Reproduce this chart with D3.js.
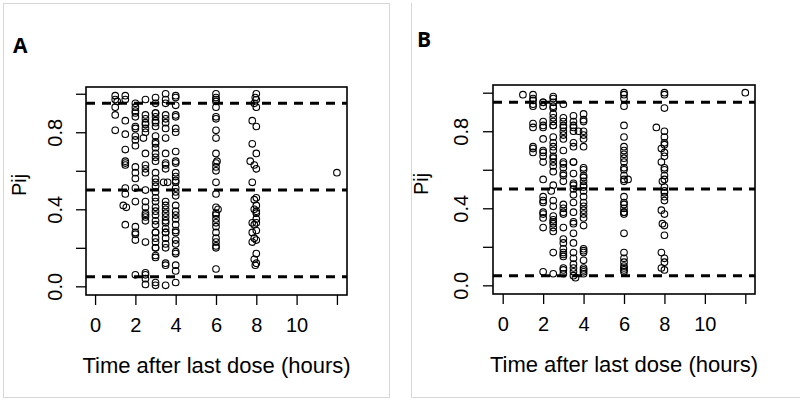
<!DOCTYPE html>
<html><head><meta charset="utf-8">
<script src="https://cdn.jsdelivr.net/npm/d3@7"></script>
<style>body{margin:0;background:#fff}svg{display:block}</style></head>
<body>
<svg id="c" width="800" height="401"></svg>
<script>
// ---- data ----
const xTicks = [0, 2, 4, 6, 8, 10, 12];
const xTickLabels = ["0", "2", "4", "6", "8", "10", ""];
const yTicks = [0, 0.2, 0.4, 0.6, 0.8, 1.0];
const yTickLabels = ["0.0", "", "0.4", "", "0.8", ""];
const refLines = [0.05, 0.5, 0.95];
const panelLabels = ["A", "B"];
const xTitle = "Time after last dose (hours)";
const yTitle = "Pij";

const timeA = [
 1,1,1.1,1,1,1,
 1.5,1.5,1.5,1.5,1.5,1.5,1.5,1.5,1.5,1.5,1.4,1.55,1.5,
 2,2,2,2,2,2,2,2,2,2,2,2,2,2,2,2,2,2,2,2,
 2.5,2.5,2.5,2.5,2.5,2.5,2.5,2.4,2.5,2.5,2.5,2.5,2.5,2.5,2.5,2.5,2.5,2.5,2.5,2.5,2.5,2.5,2.5,2.5,
 3,3,3,3,3,3,3,3,3,3,3,3,3,3,3,3,3,3,3,3,3,3,3,3,3,3,3,3,3,3,3,3,3,3,3,3,3,
 3.5,3.5,3.5,3.5,3.5,3.5,3.5,3.5,3.5,3.5,3.5,3.5,3.4,3.6,3.5,3.5,3.5,3.5,3.5,3.5,3.5,3.5,3.5,3.5,3.5,3.5,3.5,3.5,3.5,3.5,
 4,4,4,4,4,4,4,4,4,4,4,4,4,4,4,4,4,4,4,4,4,4,4,4,4,4,4,4,4,4,4,
 6,6,6,6,6,6,6,6,6,6,6,6.05,6,6,6,6,6,6.1,6,6,6,6,6,6,6,6,6,6,6,
 8,7.95,8,7.9,8,7.8,8,7.8,8,7.7,7.9,8,7.8,8,7.9,8,7.9,8,8,8,7.8,8,7.9,8,7.8,7.9,8,7.8,8,7.9,8,7.95,
 12
];
const pijA = [
 0.99,0.97,0.96,0.93,0.89,0.81,
 0.99,0.97,0.86,0.79,0.71,0.64,0.65,0.63,0.51,0.48,0.42,0.41,0.32,
 0.95,0.93,0.91,0.90,0.88,0.83,0.82,0.78,0.76,0.73,0.62,0.59,0.56,0.51,0.44,0.31,0.28,0.27,0.24,0.06,
 0.97,0.89,0.87,0.85,0.84,0.82,0.80,0.77,0.69,0.63,0.61,0.59,0.50,0.44,0.41,0.38,0.37,0.36,0.34,0.23,0.07,0.06,0.04,0.01,
 0.98,0.95,0.90,0.90,0.88,0.86,0.85,0.83,0.78,0.75,0.74,0.72,0.69,0.67,0.65,0.59,0.56,0.54,0.52,0.49,0.46,0.44,0.41,0.39,0.37,0.34,0.32,0.28,0.28,0.25,0.23,0.20,0.20,0.16,0.15,0.02,0.005,
 1.0,0.97,0.95,0.89,0.87,0.85,0.82,0.77,0.69,0.64,0.63,0.61,0.54,0.54,0.44,0.42,0.40,0.38,0.36,0.34,0.33,0.30,0.28,0.28,0.25,0.22,0.20,0.12,0.11,0.005,
 0.99,0.98,0.94,0.89,0.88,0.82,0.80,0.70,0.65,0.64,0.59,0.57,0.55,0.54,0.51,0.49,0.47,0.42,0.39,0.37,0.35,0.32,0.29,0.28,0.24,0.22,0.18,0.17,0.11,0.08,0.02,
 1.0,0.98,0.97,0.96,0.93,0.88,0.87,0.81,0.77,0.69,0.64,0.65,0.62,0.60,0.54,0.48,0.41,0.40,0.38,0.37,0.35,0.33,0.31,0.28,0.25,0.23,0.21,0.20,0.09,
 1.0,0.98,0.97,0.95,0.93,0.86,0.83,0.74,0.69,0.65,0.63,0.61,0.54,0.46,0.45,0.42,0.40,0.39,0.38,0.35,0.33,0.33,0.32,0.29,0.28,0.25,0.24,0.23,0.17,0.14,0.12,0.11,
 0.59
];

const timeB = [
 1,
 1.5,1.5,1.5,1.5,1.5,1.5,1.5,1.5,1.5,1.5,
 2,2,2,2,2,2,2,2,2,2,2,2,2,2,2,2,2,2,2,2,
 2.5,2.5,2.5,2.5,2.5,2.5,2.5,2.5,2.5,2.5,2.5,2.5,2.5,2.5,2.5,2.5,2.5,2.5,2.5,2.5,2.4,2.5,2.5,2.5,2.5,2.5,2.5,2.5,2.5,2.5,2.5,
 3,3,3,3,3,3,3,3,3,3,3,3,3,3,3,3,3,3,3,3,3,3,3,3,3,3,3,3,3,
 3.5,3.5,3.5,3.5,3.5,3.5,3.5,3.5,3.5,3.5,3.5,3.5,3.5,3.5,3.5,3.5,3.5,3.5,3.5,3.5,3.5,3.5,3.5,3.5,3.5,3.5,3.6,
 4,4,4,3.75,4,4,4,4,4,4,4,4,4,4,4,4,4,4,4,4,4,4,4,4,4,4,4,4,4,4,4,
 6,6,6,6,6,6,6,6,6,6,6,6,6,6,6,6.2,6,6,6,6,6,6,6,6,6,6,6,6,6,6,6,6,
 8,8,8,7.6,8,8,8,8,7.85,8,8,7.85,8,8,8,8,7.9,8,8,8,8,8,7.85,8,7.9,8,8,7.85,8,8,7.85,8,
 12
];
const pijB = [
 0.99,
 0.99,0.97,0.96,0.94,0.93,0.84,0.82,0.72,0.71,0.69,
 0.95,0.95,0.93,0.85,0.83,0.82,0.76,0.70,0.69,0.67,0.64,0.55,0.46,0.44,0.43,0.38,0.37,0.35,0.30,0.07,
 0.98,0.97,0.95,0.93,0.92,0.89,0.87,0.85,0.83,0.83,0.77,0.74,0.72,0.70,0.67,0.66,0.64,0.62,0.59,0.52,0.49,0.44,0.41,0.36,0.34,0.33,0.32,0.30,0.28,0.17,0.06,
 0.94,0.87,0.85,0.83,0.82,0.80,0.78,0.76,0.70,0.64,0.63,0.61,0.58,0.57,0.54,0.42,0.40,0.38,0.37,0.30,0.24,0.22,0.19,0.17,0.16,0.15,0.09,0.08,0.06,
 0.88,0.85,0.83,0.82,0.80,0.74,0.72,0.64,0.64,0.58,0.53,0.52,0.50,0.47,0.43,0.38,0.33,0.32,0.27,0.22,0.17,0.14,0.11,0.09,0.07,0.05,0.04,
 0.89,0.86,0.85,0.80,0.80,0.78,0.76,0.72,0.61,0.60,0.57,0.56,0.54,0.52,0.51,0.49,0.46,0.43,0.41,0.39,0.37,0.35,0.31,0.19,0.18,0.17,0.13,0.09,0.08,0.07,0.06,
 1.0,0.99,0.97,0.93,0.83,0.77,0.72,0.70,0.68,0.66,0.64,0.61,0.60,0.57,0.55,0.55,0.54,0.46,0.43,0.42,0.40,0.38,0.38,0.37,0.27,0.17,0.14,0.12,0.10,0.09,0.08,0.07,
 1.0,0.99,0.92,0.82,0.80,0.77,0.74,0.73,0.71,0.69,0.67,0.64,0.61,0.60,0.57,0.55,0.54,0.51,0.49,0.48,0.46,0.44,0.39,0.37,0.32,0.31,0.26,0.17,0.14,0.12,0.09,0.08,
 1.0
];

// ---- layout ----
const FONT = "'Liberation Sans', Arial, Helvetica, sans-serif";
const panels = [
  { label: panelLabels[0], times: timeA, pij: pijA,
    bx: [86, 347], by: [87, 295], xd: [-0.45, 12.5], yd: [-0.045, 1.035],
    labelPos: [13, 53], yLabX: 62, yTitleX: 26, yTitleY: 185,
    tickBase: 332, titleBase: 373,
    frame: {x: 3, y: 3, w: 386, h: 394, sides: "all"} },
  { label: panelLabels[1], times: timeB, pij: pijB,
    bx: [493, 755], by: [85, 294], xd: [-0.48, 12.48], yd: [-0.045, 1.04],
    labelPos: [417, 47], yLabX: 468, yTitleX: 428, yTitleY: 184,
    tickBase: 331, titleBase: 372,
    frame: {x: 411, y: 3, w: 400, h: 394, sides: "lb"} }
];

const svg = d3.select("#c");
svg.append("rect").attr("width", 800).attr("height", 401).attr("fill", "#fff");

panels.forEach(p => {
  const g = svg.append("g");
  const x = d3.scaleLinear().domain(p.xd).range(p.bx);
  const y = d3.scaleLinear().domain(p.yd).range([p.by[1], p.by[0]]);

  // outer frame
  const f = p.frame;
  if (f.sides === "all") {
    g.append("rect").attr("x", f.x + 0.5).attr("y", f.y + 0.5).attr("width", f.w).attr("height", f.h)
      .attr("fill", "none").attr("stroke", "#d6d6d6").attr("stroke-width", 1);
  } else {
    g.append("path").attr("d", `M${f.x + 0.5},${f.y}V${f.y + f.h + 0.5}H800`)
      .attr("fill", "none").attr("stroke", "#d6d6d6").attr("stroke-width", 1);
  }

  // panel letter
  g.append("text").attr("x", p.labelPos[0]).attr("y", p.labelPos[1])
    .attr("font-family", "'Open Sans', " + FONT).attr("font-weight", "bold")
    .attr("font-size", 21).attr("fill", "#000").text(p.label);

  // reference dashed lines
  g.selectAll("line.ref").data(refLines).join("line").attr("class", "ref")
    .attr("x1", p.bx[0]).attr("x2", p.bx[1])
    .attr("y1", d => y(d)).attr("y2", d => y(d))
    .attr("stroke", "#000").attr("stroke-width", 3).attr("stroke-dasharray", "9,7");

  // points
  const pts = p.times.map((t, i) => ({t, v: p.pij[i]}));
  g.selectAll("circle").data(pts).join("circle")
    .attr("cx", d => x(d.t)).attr("cy", d => y(d.v)).attr("r", 3.3)
    .attr("fill", "none").attr("stroke", "#000").attr("stroke-width", 1.1);

  // box
  g.append("rect").attr("x", p.bx[0]).attr("y", p.by[0])
    .attr("width", p.bx[1] - p.bx[0]).attr("height", p.by[1] - p.by[0])
    .attr("fill", "none").attr("stroke", "#000").attr("stroke-width", 1.6);

  // x axis
  const xa = d3.axisBottom(x).tickValues(xTicks).tickSize(10).tickSizeOuter(0)
    .tickFormat((d, i) => xTickLabels[i]);
  const xg = g.append("g").attr("transform", `translate(0,${p.by[1]})`).call(xa);
  xg.select(".domain").remove();
  xg.selectAll(".tick line").attr("stroke", "#000").attr("stroke-width", 1.3);
  xg.selectAll(".tick text").attr("font-family", FONT).attr("font-size", 20)
    .attr("fill", "#000").attr("dy", null).attr("y", p.tickBase - p.by[1]);

  // y axis
  const ya = d3.axisLeft(y).tickValues(yTicks).tickSize(10).tickSizeOuter(0)
    .tickFormat((d, i) => yTickLabels[i]);
  const yg = g.append("g").attr("transform", `translate(${p.bx[0]},0)`).call(ya);
  yg.select(".domain").remove();
  yg.selectAll(".tick line").attr("stroke", "#000").attr("stroke-width", 1.3);
  yg.selectAll(".tick text").attr("font-family", FONT).attr("font-size", 20)
    .attr("fill", "#000").attr("x", null).attr("dy", null)
    .attr("text-anchor", "middle")
    .attr("transform", `translate(${p.yLabX - p.bx[0]},0) rotate(-90)`);

  // titles
  g.append("text").attr("x", (p.bx[0] + p.bx[1]) / 2).attr("y", p.titleBase)
    .attr("text-anchor", "middle").attr("font-family", FONT).attr("font-size", 22)
    .attr("fill", "#000").text(xTitle);
  g.append("text").attr("transform", `translate(${p.yTitleX},${p.yTitleY}) rotate(-90)`)
    .attr("text-anchor", "middle").attr("font-family", FONT).attr("font-size", 20)
    .attr("fill", "#000").text(yTitle);
});
</script>
</body></html>
